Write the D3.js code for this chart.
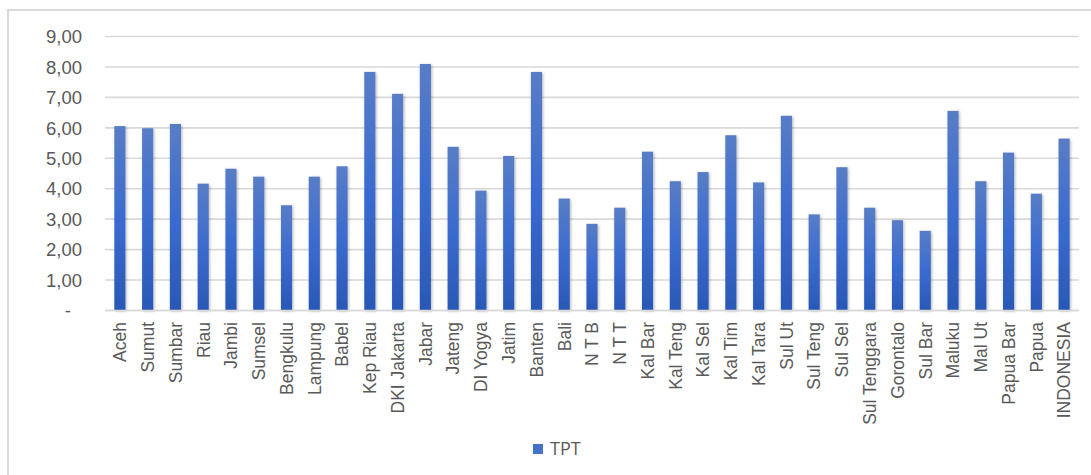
<!DOCTYPE html>
<html><head><meta charset="utf-8">
<script src="https://cdn.jsdelivr.net/npm/d3@7"></script>
<style>
html,body{margin:0;padding:0;background:#fff;}
svg{display:block;font-family:"Open Sans","Noto Sans",sans-serif;}
</style></head>
<body>
<svg id="chart" width="1091" height="475"></svg>
<script>
const categories = ["Aceh","Sumut","Sumbar","Riau","Jambi","Sumsel","Bengkulu","Lampung","Babel","Kep Riau","DKI Jakarta","Jabar","Jateng","DI Yogya","Jatim","Banten","Bali","N T B","N T T","Kal Bar","Kal Teng","Kal Sel","Kal Tim","Kal Tara","Sul Ut","Sul Teng","Sul Sel","Sul Tenggara","Gorontalo","Sul Bar","Maluku","Mal Ut","Papua Bar","Papua","INDONESIA"];
const tpt = [6.04,5.97,6.11,4.15,4.64,4.38,3.44,4.38,4.72,7.82,7.10,8.08,5.36,3.92,5.06,7.82,3.66,2.83,3.36,5.20,4.23,4.53,5.74,4.19,6.38,3.14,4.69,3.36,2.95,2.60,6.54,4.23,5.17,3.82,5.63];
const seriesName = "TPT";
const yTicks = [0,1,2,3,4,5,6,7,8,9];
const yTickLabels = ["-","1,00","2,00","3,00","4,00","5,00","6,00","7,00","8,00","9,00"];

const svg = d3.select("#chart");
const W = 1091, H = 475;
const plot = {left:106, right:1078, top:36, bottom:310};

// frame
svg.append("path").attr("d",`M8,${H} L8,10 L${W},10`).attr("fill","none").attr("stroke","#d9d9d9").attr("stroke-width",2);

const defs = svg.append("defs");
const grad = defs.append("linearGradient").attr("id","barGrad").attr("x1",0).attr("y1",0).attr("x2",0).attr("y2",1);
grad.append("stop").attr("offset","0%").attr("stop-color","#587dc6");
grad.append("stop").attr("offset","50%").attr("stop-color","#3b6bcf");
grad.append("stop").attr("offset","100%").attr("stop-color","#2a58b6");
const flt = defs.append("filter").attr("id","shadow").attr("x","-50%").attr("y","-10%").attr("width","200%").attr("height","120%");
flt.append("feDropShadow").attr("dx",1).attr("dy",1).attr("stdDeviation",1.6).attr("flood-color","#000").attr("flood-opacity",0.3);

const x = d3.scaleBand().domain(categories).range([plot.left, plot.right]).paddingInner(0.6).paddingOuter(0.3);
const y = d3.scaleLinear().domain([0,9]).range([plot.bottom, plot.top]);

// gridlines
const yAxis = d3.axisLeft(y).tickValues(yTicks).tickSize(-(1079-105)).tickFormat((d,i)=>yTickLabels[i]);
const gy = svg.append("g").attr("transform",`translate(105,0)`).call(yAxis);
gy.select(".domain").remove();
gy.selectAll(".tick line").attr("stroke","#d9d9d9").attr("stroke-width",1.6);
gy.selectAll(".tick text").attr("x",-23).attr("dy","0.36em").attr("fill","#595959").attr("font-size","18.5px")
  .attr("dx",(d)=> d===0 ? -11 : 0);

// bars
svg.append("g").selectAll("rect").data(tpt).join("rect")
  .attr("x",(d,i)=>x(categories[i]))
  .attr("width",x.bandwidth())
  .attr("y",d=>y(d))
  .attr("height",d=>y(0)-y(d))
  .attr("fill","url(#barGrad)")
  .attr("filter","url(#shadow)");

// x axis
const xAxis = d3.axisBottom(x).tickSize(0);
const gx = svg.append("g").attr("transform",`translate(0,${plot.bottom})`).call(xAxis);
gx.select(".domain").attr("d",`M105,0.5H1079`).attr("stroke","#d9d9d9").attr("stroke-width",1.6);
gx.selectAll(".tick text")
  .attr("transform","rotate(-90)")
  .attr("text-anchor","end")
  .attr("x",-12).attr("y",0).attr("dy","0.36em")
  .attr("fill","#595959").attr("font-size","17.5px");

// legend
const lg = svg.append("g").attr("transform","translate(533,444)");
lg.append("rect").attr("width",10).attr("height",10).attr("fill","#4472c4");
lg.append("text").attr("x",17).attr("y",5).attr("dy","0.36em").attr("fill","#595959").attr("font-size","18px").text(seriesName);
</script>
</body></html>
